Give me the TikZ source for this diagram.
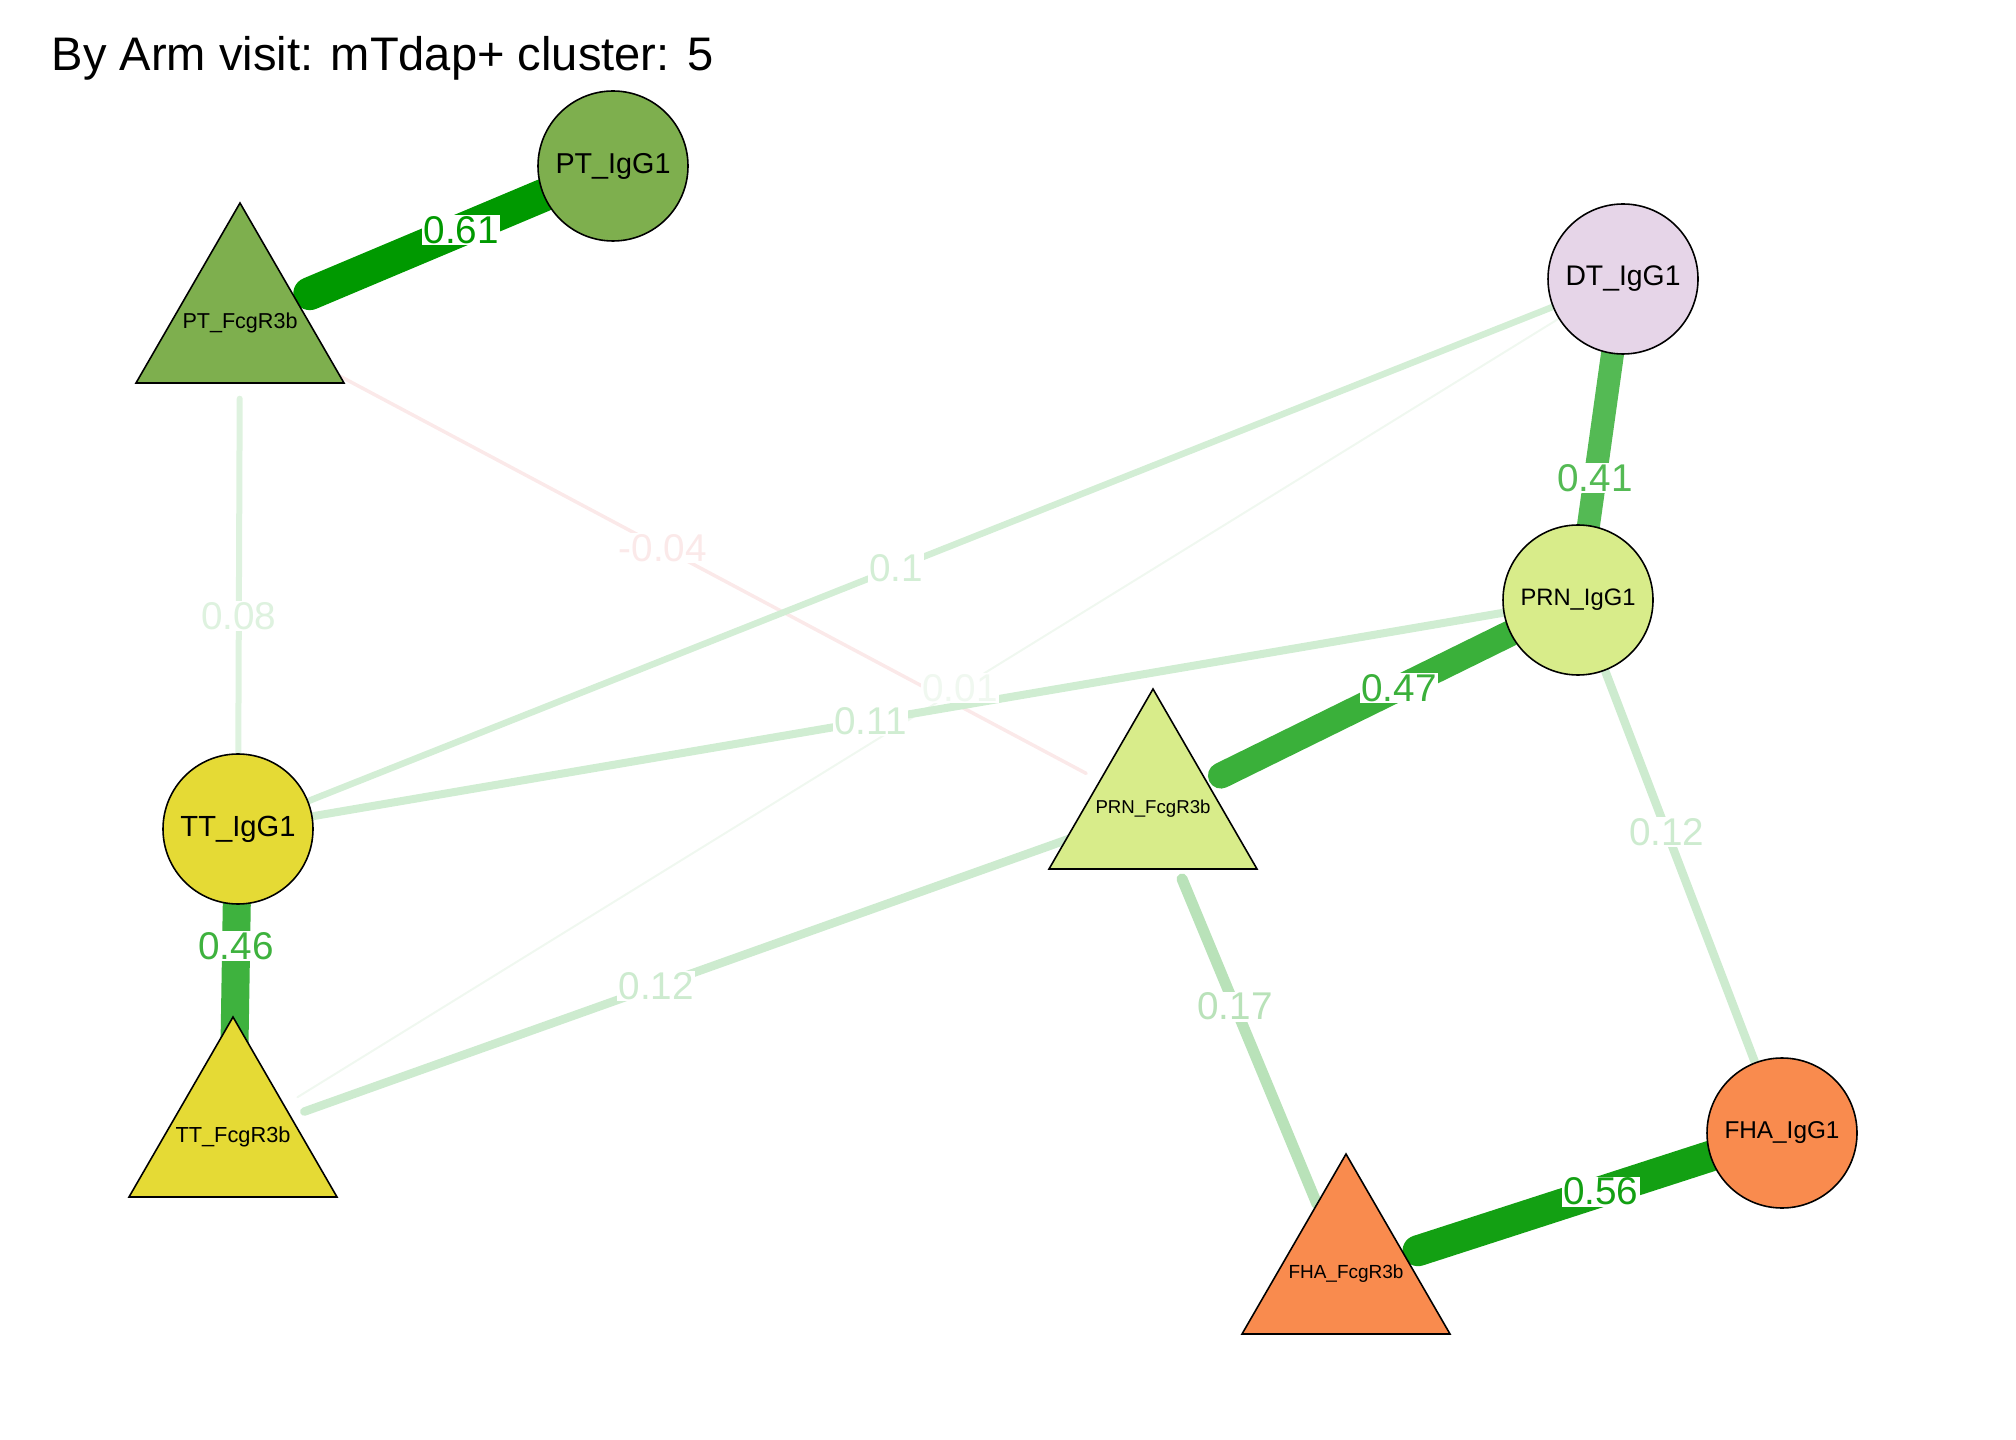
\documentclass[tikz,border=0pt]{standalone}
\usepackage{fontspec}
\setmainfont{Liberation Sans}
\usepackage{tikz}
\usetikzlibrary{calc}

\definecolor{ptcol}{HTML}{7EAF4E}
\definecolor{dtcol}{HTML}{E6D5E8}
\definecolor{prncol}{HTML}{D8EC8A}
\definecolor{ttcol}{HTML}{E5DA35}
\definecolor{fhacol}{HTML}{F98B4E}
\definecolor{e61}{HTML}{009900}
\definecolor{e56}{HTML}{13A013}
\definecolor{e47}{HTML}{3AB03A}
\definecolor{e46}{HTML}{3EB23E}
\definecolor{e41}{HTML}{54BA54}
\definecolor{e17}{HTML}{B9E2B9}
\definecolor{e12}{HTML}{CDEBCF}
\definecolor{e11}{HTML}{D0EDD2}
\definecolor{e10}{HTML}{D3EED5}
\definecolor{e08}{HTML}{DEF2DF}
\definecolor{e01}{HTML}{F0F8F0}
\definecolor{en04}{HTML}{FBE9E9}

\newcommand{\fitlab}[1]{\resizebox{11.5mm}{!}{#1}}

\begin{document}
\begin{tikzpicture}[x=0.1mm, y=-0.1mm]
\tikzset{hub/.style={circle,minimum size=15mm,inner sep=0},
ballnode/.style={circle,draw,line width=0.45pt,minimum size=15mm,inner sep=0},
trishape/.style={draw,line width=0.45pt,line join=miter},
edge/.style={line cap=round},
edgelabel/.style={fill=white,inner sep=0.4pt,font=\fontsize{11}{13}\selectfont}}

\useasboundingbox (0,0) rectangle (2016,1440);

\node (title) [anchor=base west,inner sep=0,font=\fontsize{13.4}{16}\selectfont] at (51,71) {By Arm visit: mTdap+ cluster: 5};

%% Vertices
\node (PTi) [hub] at (613, 166) {};
\node (PTf) [hub] at (240, 323) {};
\node (DTi) [hub] at (1623, 279) {};
\node (PRNi) [hub] at (1578, 600) {};
\node (PRNf) [hub] at (1153, 809) {};
\node (TTi) [hub] at (238, 829) {};
\node (TTf) [hub] at (233, 1137) {};
\node (FHAi) [hub] at (1782, 1133) {};
\node (FHAf) [hub] at (1346, 1274) {};

%% Edges
\foreach \u/\v/\wd/\col in {TTf/DTi/0.2mm/e01, PTf/PRNf/0.35mm/en04, PTf/TTi/0.6mm/e08,
  TTi/DTi/0.65mm/e10, TTi/PRNi/0.8mm/e11, TTf/PRNf/0.85mm/e12, PRNi/FHAi/0.85mm/e12,
  PRNf/FHAf/1.1mm/e17, DTi/PRNi/2.3mm/e41, PRNf/PRNi/2.6mm/e47, TTi/TTf/2.8mm/e46,
  FHAf/FHAi/3.1mm/e56, PTf/PTi/3.3mm/e61}
  \draw[edge,line width=\wd,draw=\col] (\u) -- (\v);

\foreach \u/\v/\f/\col/\lab in {TTf/DTi/0.523/e01/0.01, PTf/PRNf/0.463/en04/-0.04, PTf/TTi/0.579/e08/0.08,
  TTi/DTi/0.475/e10/0.1, TTi/PRNi/0.472/e11/0.11, TTf/PRNf/0.46/e12/0.12, PRNi/FHAi/0.435/e12/0.12,
  PRNf/FHAf/0.425/e17/0.17, DTi/PRNi/0.62/e41/0.41, PRNf/PRNi/0.579/e47/0.47, TTi/TTf/0.38/e46/0.46,
  FHAf/FHAi/0.584/e56/0.56, PTf/PTi/0.593/e61/0.61}
  \node[edgelabel,text=\col] at ($(\u)!\f!(\v)$) {\lab};

%% Shapes
\foreach \u/\col/\lab in {PTi/ptcol/PT\_IgG1, DTi/dtcol/DT\_IgG1, PRNi/prncol/PRN\_IgG1,
  TTi/ttcol/TT\_IgG1, FHAi/fhacol/FHA\_IgG1}
  \node[ballnode,fill=\col] at (\u) {\fitlab{\lab}};
\foreach \u/\col/\lab in {PTf/ptcol/PT\_FcgR3b, PRNf/prncol/PRN\_FcgR3b,
  TTf/ttcol/TT\_FcgR3b, FHAf/fhacol/FHA\_FcgR3b} {
  \draw[trishape,fill=\col] ($(\u)+(0,-120)$) -- ($(\u)+(104,60)$) -- ($(\u)+(-104,60)$) -- cycle;
  \node[inner sep=0] at (\u) {\fitlab{\lab}};
}

\end{tikzpicture}
\end{document}
